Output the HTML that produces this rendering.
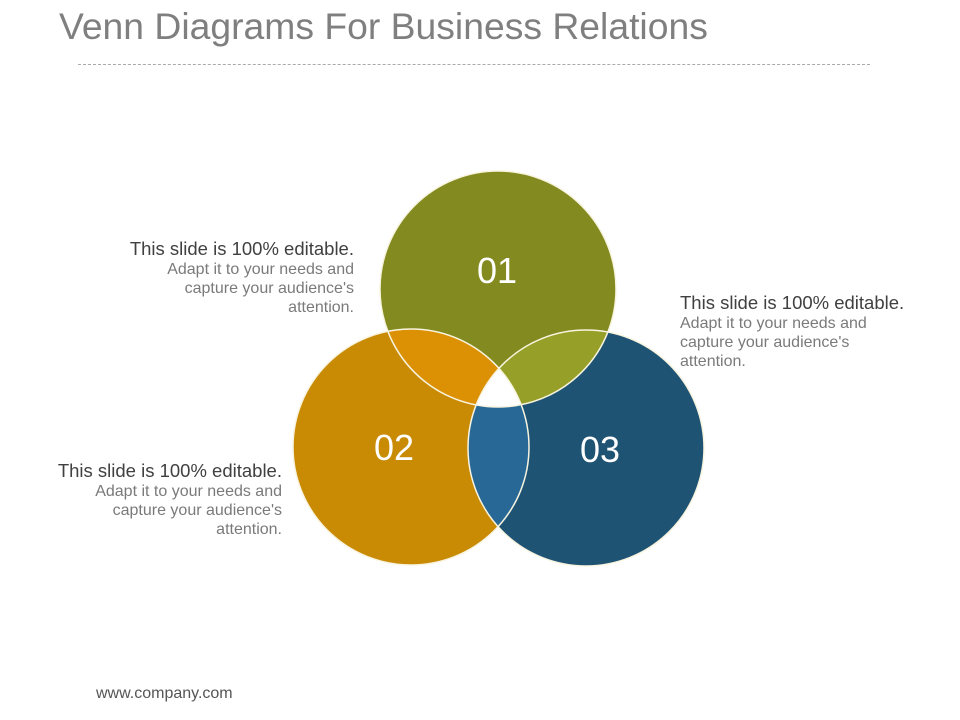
<!DOCTYPE html>
<html><head><meta charset="utf-8"><style>
body{margin:0;width:960px;height:720px;background:#fff;position:relative;font-family:"Liberation Sans",sans-serif;overflow:hidden}
.t{position:absolute;font-size:37.3px;color:#7f7f7f;left:59px;top:5px;white-space:nowrap}
.line{position:absolute;left:78px;top:64px;width:792px;border-top:1px dashed #aaa}
.b{position:absolute;font-size:16px;color:#7a7a7a;line-height:19px;white-space:nowrap}
.b b{font-weight:normal;color:#404040;font-size:18.5px;display:block;line-height:22px}
.r{text-align:right}
.f{position:absolute;left:96px;top:685px;font-size:16px;color:#555}
</style></head><body>
<div class="t">Venn Diagrams For Business Relations</div>
<div class="line"></div>
<svg width="960" height="720" style="position:absolute;left:0;top:0">
<defs>
<clipPath id="k1"><circle cx="498" cy="289" r="118"/></clipPath>
<clipPath id="k2"><circle cx="411" cy="447" r="118"/></clipPath>
<clipPath id="k3"><circle cx="586" cy="448" r="118"/></clipPath>
</defs>
<circle cx="498" cy="289" r="118" fill="#838b20"/>
<circle cx="411" cy="447" r="118" fill="#c98a04"/>
<circle cx="586" cy="448" r="118" fill="#1f5373"/>
<circle cx="411" cy="447" r="118" fill="#dc9104" clip-path="url(#k1)"/>
<circle cx="586" cy="448" r="118" fill="#96a028" clip-path="url(#k1)"/>
<circle cx="586" cy="448" r="118" fill="#276896" clip-path="url(#k2)"/>
<g clip-path="url(#k1)"><circle cx="586" cy="448" r="118" fill="#fff" clip-path="url(#k2)"/></g>
<g fill="none" stroke="#f8f4e0" stroke-width="1.5">
<circle cx="498" cy="289" r="118"/><circle cx="411" cy="447" r="118"/><circle cx="586" cy="448" r="118"/>
</g>
<g fill="#fff" font-family="Liberation Sans, sans-serif" font-size="36" text-anchor="middle">
<text x="497" y="283">01</text><text x="394" y="460">02</text><text x="600" y="462">03</text>
</g>
</svg>
<div class="b r" style="right:606px;top:238px"><b>This slide is 100% editable.</b>Adapt it to your needs and<br>capture your audience's<br>attention.</div>
<div class="b" style="left:680px;top:292px"><b>This slide is 100% editable.</b>Adapt it to your needs and<br>capture your audience's<br>attention.</div>
<div class="b r" style="right:678px;top:460px"><b>This slide is 100% editable.</b>Adapt it to your needs and<br>capture your audience's<br>attention.</div>
<div class="f">www.company.com</div>
</body></html>
